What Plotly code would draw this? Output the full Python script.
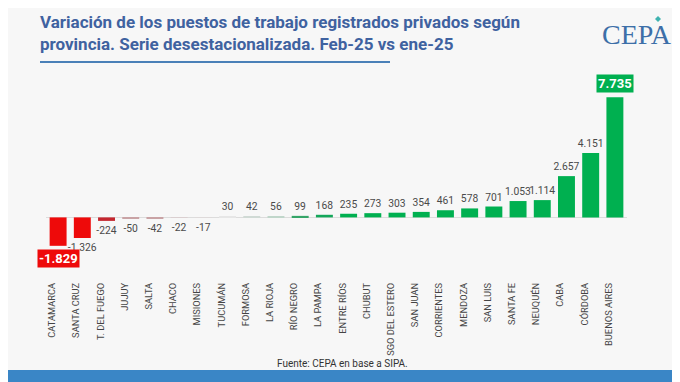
import plotly.graph_objects as go

provincias = ["CATAMARCA", "SANTA CRUZ", "T. DEL FUEGO", "JUJUY", "SALTA", "CHACO", "MISIONES",
              "TUCUMÁN", "FORMOSA", "LA RIOJA", "RÍO NEGRO", "LA PAMPA", "ENTRE RÍOS", "CHUBUT",
              "SGO DEL ESTERO", "SAN JUAN", "CORRIENTES", "MENDOZA", "SAN LUIS", "SANTA FE",
              "NEUQUÉN", "CABA", "CÓRDOBA", "BUENOS AIRES"]
variacion = [-1829, -1326, -224, -50, -42, -22, -17, 30, 42, 56, 99, 168, 235, 273, 303, 354,
             461, 578, 701, 1053, 1114, 2657, 4151, 7735]

colores = ["#ee0a0a", "#ee0a0a", "#c4262e", "#c9a3a5", "#c9a3a5", "#dacfd0", "#dedada",
           "#e6e6e6", "#d0dad5", "#c0d6ca", "#35a568", "#14a75a"] + ["#00b050"] * 12

def fmt(v):
    return f"{v:,}".replace(",", ".")

vmax = max(variacion)
vmin = min(variacion)
textos = ["" if v in (vmax, vmin) else fmt(v) for v in variacion]

W, H = 680, 382
OFF = 8  # page offset of the figure in the screenshot
L, R, T, B = 38, 61, 82, 112
PW = W - L - R
PH = H - T - B

def py(sy):
    return (H - B - (sy - OFF)) / PH

def px(sx):
    return (sx - OFF - L) / PW

fig = go.Figure()
fig.add_trace(go.Bar(
    x=provincias, y=variacion, marker_color=colores, marker_line_width=0,
    text=textos, textposition="outside", cliponaxis=False, constraintext="none",
    textfont=dict(family="Roboto", size=10.3, color="#4a4a4a"),
    width=0.7,
))

for v in (vmax, vmin):
    i = variacion.index(v)
    fig.add_annotation(
        x=provincias[i], y=v, text="<b>" + fmt(v) + "</b>", showarrow=False,
        yanchor="bottom" if v > 0 else "top", yshift=4 if v > 0 else -3,
        font=dict(family="Roboto", size=13, color="white"),
        bgcolor=colores[i], borderpad=1,
    )

fig.update_layout(
    width=W, height=H,
    paper_bgcolor="#f7f7f7", plot_bgcolor="#f7f7f7",
    margin=dict(l=L, r=R, t=T, b=B),
    showlegend=False, bargap=0.3,
    xaxis=dict(range=[-0.5, len(provincias) - 0.5], showgrid=False, showline=False, ticks="",
               tickangle=-90, automargin=False, ticklabelshift=-6, ticklabelstandoff=2,
               tickfont=dict(family="Roboto", size=9.3, color="#444")),
    yaxis=dict(range=[-3900, 8200], showgrid=False, showticklabels=False, automargin=False,
               zeroline=True, zerolinecolor="#dcdcdc", zerolinewidth=1),
)

# título
fig.add_annotation(
    xref="paper", yref="paper", x=px(38), y=py(56), xanchor="left", yanchor="bottom",
    align="left", showarrow=False,
    text="<b>Variación de los puestos de trabajo registrados privados según<br>"
         "provincia. Serie desestacionalizada. Feb-25 vs ene-25</b>",
    font=dict(family="Roboto", size=17, color="#3f62a0"),
)
# logo
fig.add_annotation(
    xref="paper", yref="paper", x=px(674), y=py(34), xanchor="right", yanchor="middle",
    text="CEPA", showarrow=False,
    font=dict(family="Liberation Serif", size=28, color="#3d6fa8"),
)
dx, dy = 3 / PW, 3 / PH
cx, cy = px(658), py(19)
fig.add_shape(type="path", xref="paper", yref="paper",
              path=f"M {cx - dx},{cy} L {cx},{cy + dy} L {cx + dx},{cy} L {cx},{cy - dy} Z",
              fillcolor="#3fb3b0", line_width=0)
# fuente
fig.add_annotation(
    xref="paper", yref="paper", x=px(342), y=py(363), xanchor="center", yanchor="middle",
    text="Fuente: CEPA en base a SIPA.", showarrow=False,
    font=dict(family="Roboto", size=10, color="#333"),
)

# subrayado y banda inferior
fig.add_shape(type="line", xref="paper", yref="paper", x0=px(40), x1=px(390), y0=py(62), y1=py(62),
              line=dict(color="#4a80b8", width=2))
fig.add_shape(type="rect", xref="paper", yref="paper", x0=px(-20), x1=px(700), y0=py(370), y1=py(400),
              fillcolor="#3a86c6", line_width=0, layer="above")

fig.write_html("out.html")
